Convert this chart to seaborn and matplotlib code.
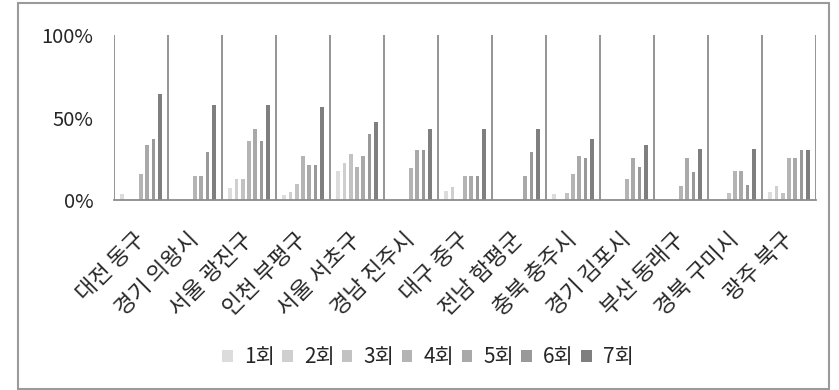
import matplotlib
matplotlib.use("Agg")
import matplotlib.pyplot as plt
import matplotlib.transforms as mtransforms
import seaborn as sns
import pandas as pd
from matplotlib.patches import Rectangle

regions = ["대전 동구", "경기 의왕시", "서울 광진구", "인천 부평구", "서울 서초구",
           "경남 진주시", "대구 중구", "전남 함평군", "충북 충주시", "경기 김포시",
           "부산 동래구", "경북 구미시", "광주 북구"]
rounds = ["1회", "2회", "3회", "4회", "5회", "6회", "7회"]

r1 = [3.7, 0, 7.5, 3.0, 17.3, 0, 5.5, 0, 3.7, 0, 0, 0, 4.9]
r2 = [0, 0, 12.6, 4.7, 22.4, 0, 7.9, 0, 0, 0, 0, 0, 8.5]
r3 = [0, 0, 12.6, 9.8, 28.0, 0, 0, 0, 4.3, 0, 0, 4.3, 4.1]
r4 = [15.9, 14.6, 36.0, 26.4, 20.3, 19.1, 14.6, 0, 15.9, 12.6, 8.5, 17.7, 25.2]
r5 = [33.5, 14.6, 43.3, 21.1, 26.8, 30.3, 14.6, 14.6, 26.4, 25.2, 25.2, 17.7, 25.2]
r6 = [36.8, 29.0, 36.0, 21.1, 40.2, 30.3, 14.6, 29.0, 25.2, 20.3, 17.1, 8.9, 30.3]
r7 = [64.2, 57.7, 57.7, 56.1, 47.0, 43.3, 43.3, 43.3, 37.2, 33.5, 31.1, 30.7, 30.3]

colors = ["#dcdcdc", "#cfcfcf", "#c2c2c2", "#b4b4b4", "#a9a9a9", "#999999", "#7f7f7f"]

series = [r1, r2, r3, r4, r5, r6, r7]
rows = []
for rnd, vals in zip(rounds, series):
    for reg, v in zip(regions, vals):
        rows.append({"region": reg, "round": rnd, "value": v / 100.0})
df = pd.DataFrame(rows)

sns.set_theme(style="white")
plt.rcParams["font.family"] = ["Noto Sans CJK KR", "DejaVu Sans"]

W, H = 839, 390
fig = plt.figure(figsize=(W / 100, H / 100), dpi=100)
ax = fig.add_axes([114 / W, (H - 200) / H, 702 / W, 165 / H])

sns.barplot(data=df, x="region", y="value", hue="round", order=regions,
            hue_order=rounds, palette=colors, width=0.81, gap=0.42,
            ax=ax, legend=True, linewidth=0, saturation=1)

ax.set_xlim(-0.5, len(regions) - 0.5)
ax.set_ylim(0, 1)
ax.set_xlabel("")
ax.set_ylabel("")

grid_c = "#8c8c8c"
ax.set_xticks([i - 0.5 for i in range(len(regions) + 1)], minor=True)
ax.grid(False)
ax.grid(True, which="minor", axis="x", color=grid_c, linewidth=1.3)
ax.set_axisbelow(True)
ax.tick_params(axis="x", which="minor", length=6, width=1.3, color=grid_c, direction="out")
ax.tick_params(axis="x", which="major", length=0, pad=20)
ax.set_xticks(range(len(regions)))
ax.set_xticklabels(regions, rotation=45, ha="right", rotation_mode="anchor", fontsize=16)
offset = mtransforms.ScaledTranslation(-8 / 100, 0, fig.dpi_scale_trans)
for lab in ax.get_xticklabels():
    lab.set_transform(lab.get_transform() + offset)

ax.set_yticks([0, 0.5, 1.0])
ax.set_yticklabels(["0%", "50%", "100%"], fontsize=14.5)
ax.tick_params(axis="y", which="major", length=0, pad=15)
ax.set_yticks([0], minor=True)
ax.tick_params(axis="y", which="minor", length=7, width=1.3, color=grid_c, direction="out")

for s in ["top", "right", "left"]:
    ax.spines[s].set_visible(False)
ax.spines["bottom"].set_color(grid_c)
ax.spines["bottom"].set_linewidth(1.3)

handles, labels = ax.get_legend_handles_labels()
ax.get_legend().remove()
fig.legend(handles, labels, loc="center", bbox_to_anchor=(428 / W, (H - 357) / H),
           ncol=7, frameon=False, fontsize=15, handlelength=0.5, handleheight=0.5,
           handletextpad=0.55, columnspacing=0.35, borderaxespad=0)

fig.patches.append(Rectangle((18 / W, 1 / H), (829 - 18) / W, (387 - 1) / H,
                             transform=fig.transFigure, fill=False,
                             edgecolor="#9a9a9a", linewidth=1.5))

fig.savefig("out.png", dpi=100)
